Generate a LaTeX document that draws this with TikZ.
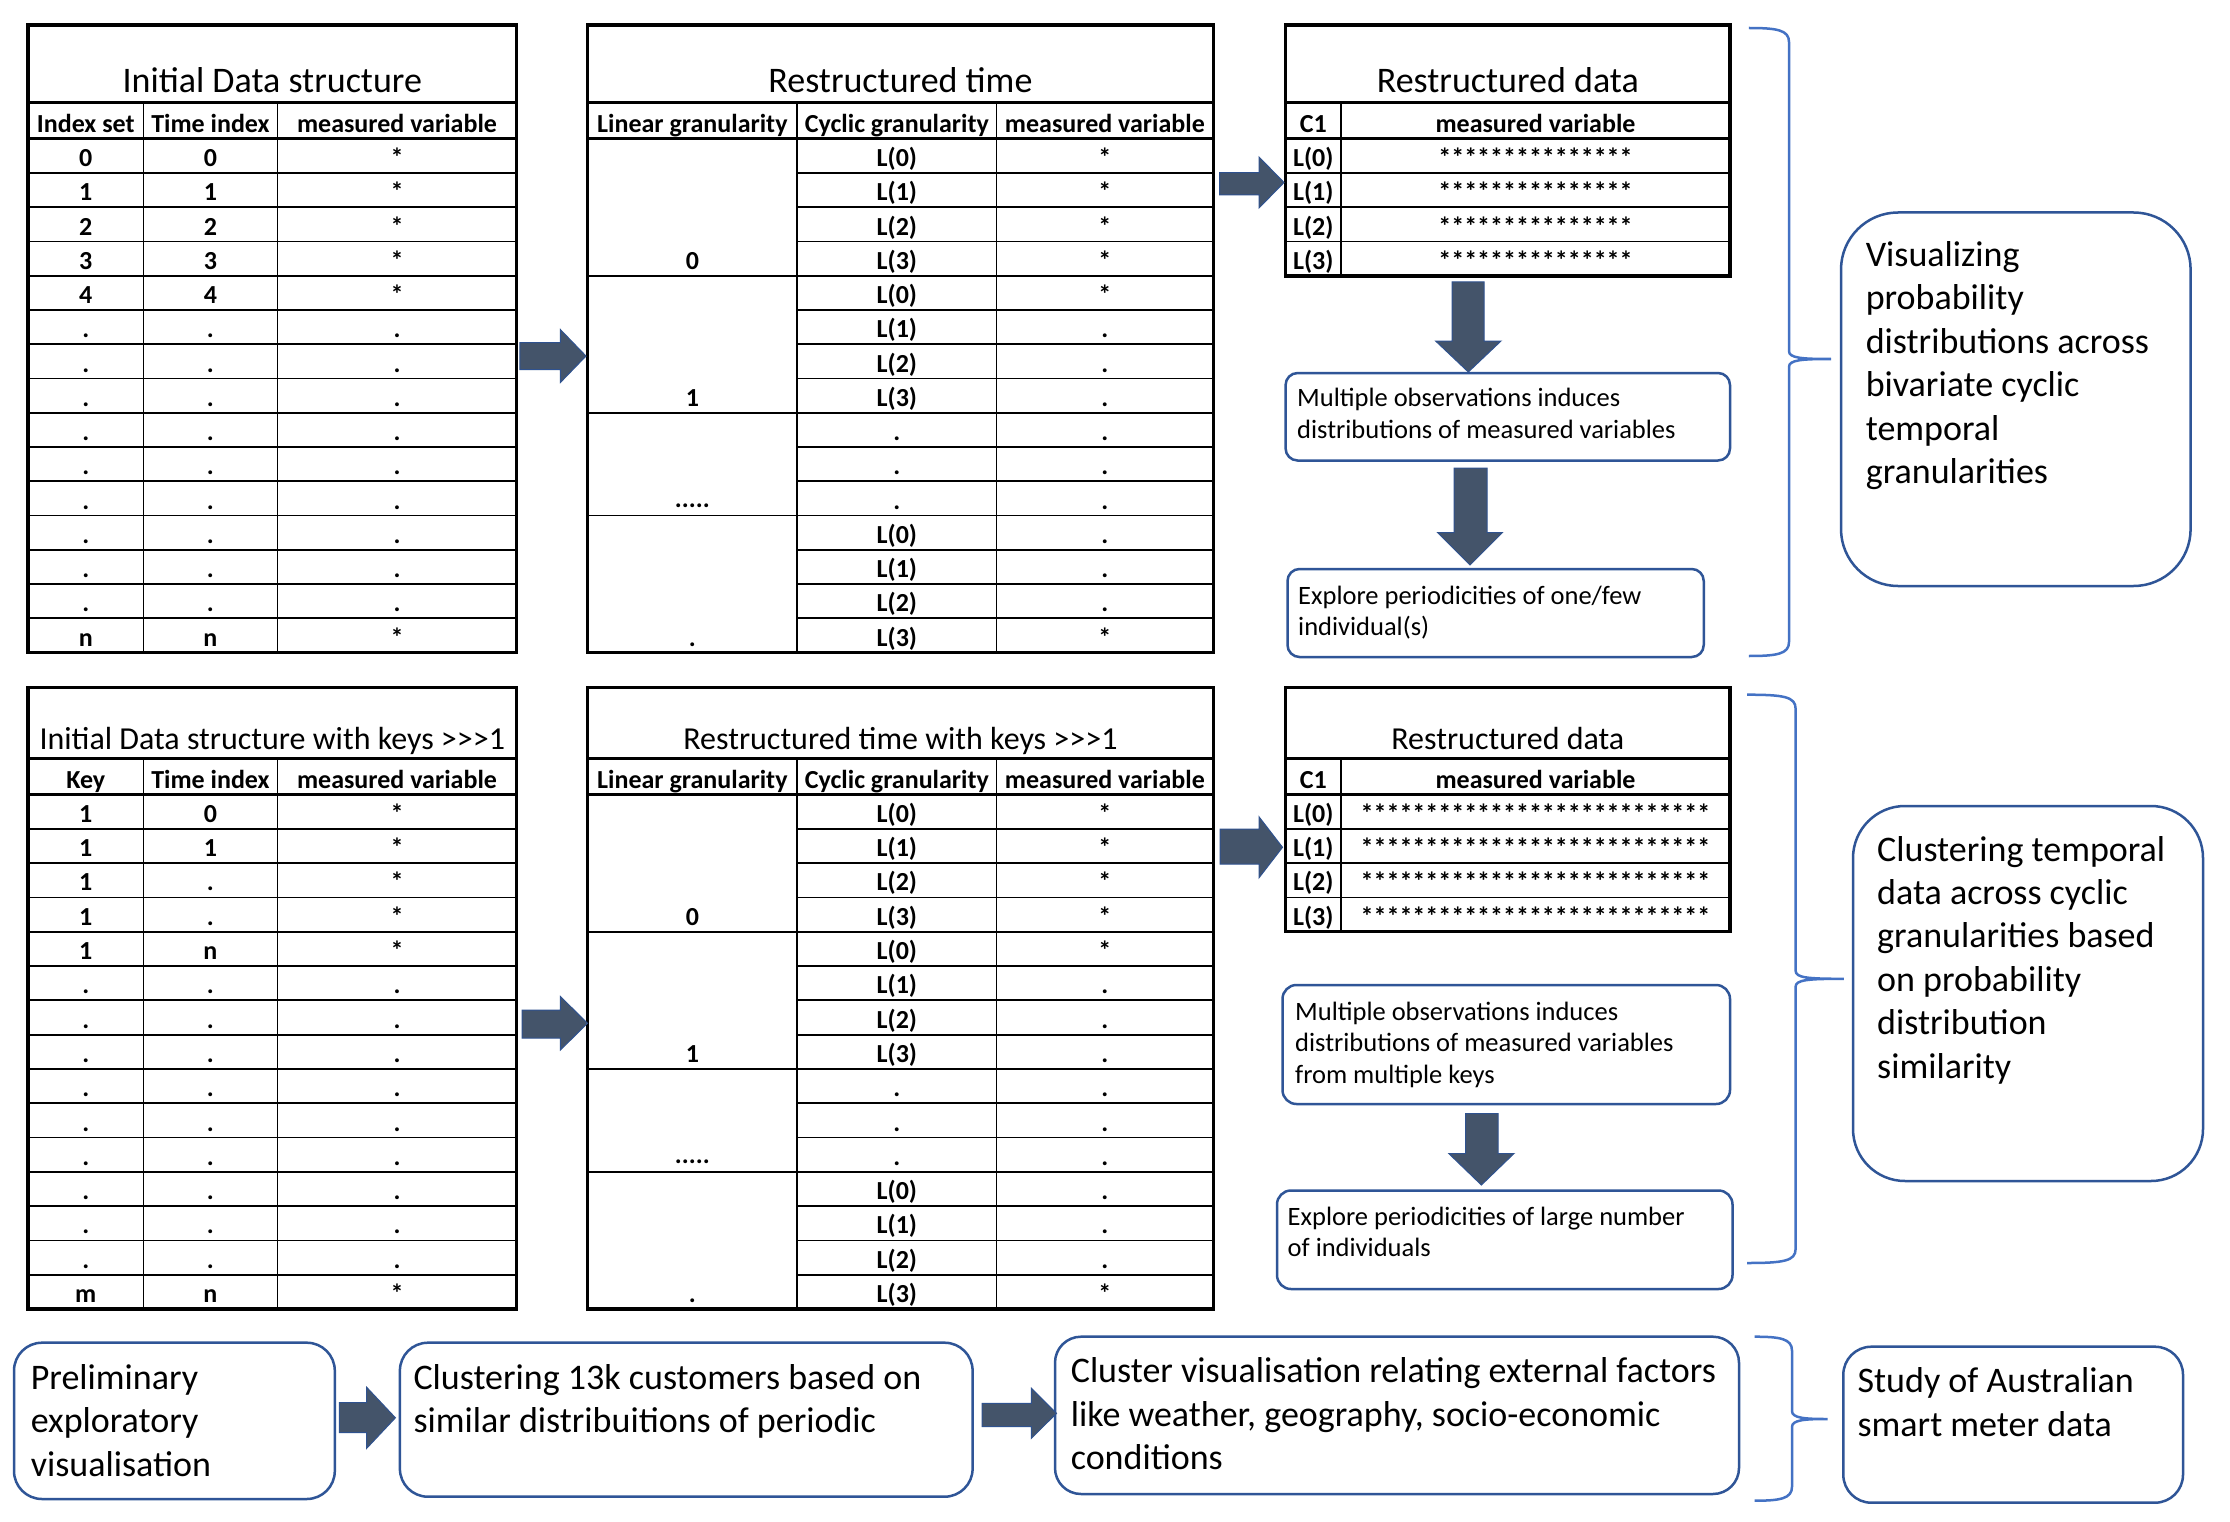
\documentclass[tikz,border=0pt]{standalone}
\usepackage{fontspec}
\setmainfont{Carlito}
\definecolor{arrowfill}{HTML}{44546A}
\definecolor{arrowline}{HTML}{2F528F}
\definecolor{boxline}{HTML}{2F5597}
\definecolor{braceline}{HTML}{4472C4}
\newcommand{\fivedots}{.....}
\newcommand{\gtgtgt}{>\kern0pt>\kern0pt>}
\tikzset{
 tbout/.style={line width=3.5pt},
 tbsep/.style={line width=3pt},
 tbin/.style={line width=1.8pt},
 ttl/.style={font=\fontsize{36}{43.4}\selectfont, anchor=base, inner sep=0pt},
 ttlsm/.style={font=\fontsize{32}{38.6}\selectfont, anchor=base, inner sep=0pt},
 hdr/.style={font=\bfseries\fontsize{26}{31}\selectfont, anchor=base, inner sep=0pt},
 cell/.style={hdr},
 bigtxt/.style={font=\fontsize{36}{43.4}\selectfont, anchor=base west, inner sep=0pt},
 smtxt/.style={font=\fontsize{26.5}{31.5}\selectfont, anchor=base west, inner sep=0pt},
 bluebox/.style={draw=boxline, line width=2.5pt, rounded corners=#1, rectangle, anchor=north west, inner sep=0pt, outer sep=0pt},
 blockarrow/.style={fill=arrowfill, draw=arrowline, line width=1pt},
 bracestyle/.style={draw=braceline, line width=2.5pt},
}
% right block arrow: x0, xhead, xtip, shaft top, shaft bottom, head top, head bottom
\newcommand{\rblock}[7]{\draw[blockarrow] (#1,#4) -- (#2,#4) -- (#2,#6) -- (#3,{(#6+#7)/2}) -- (#2,#7) -- (#2,#5) -- (#1,#5) -- cycle;}
% down block arrow: shaft left, shaft right, head left, head right, top, head start, tip
\newcommand{\dblock}[7]{\draw[blockarrow] (#1,#5) -- (#2,#5) -- (#2,#6) -- (#4,#6) -- ({(#3+#4)/2},#7) -- (#3,#6) -- (#1,#6) -- cycle;}
% brace: left x, vertical x, tip x, top y, tip y, bottom y
\newcommand{\mybrace}[6]{\draw[bracestyle] (#1,#4) .. controls (#2-12,#4) and (#2,#4+2) .. (#2,#4+14) -- (#2,#5-8) .. controls (#2,#5-1) and (#2+12,#5) .. (#3,#5) .. controls (#2+12,#5) and (#2,#5+1) .. (#2,#5+8) -- (#2,#6-14) .. controls (#2,#6-2) and (#2-12,#6) .. (#1,#6);}
\begin{document}
\begin{tikzpicture}[x=1pt,y=-1pt]
\useasboundingbox (0,0) rectangle (2230,1522);
\fill[white] (0,0) rectangle (2230,1522);

% ================= TOP ROW =================
\def\ya{25}\def\yb{103}\def\yc{138.8}\def\rh{34.25}\def\yd{652.6}
% ---- Table 1
\draw[tbin] foreach \k in {1,...,14} {(28,\yc+\k*\rh) -- (516.6,\yc+\k*\rh)};
\draw[tbin] (143.5,\yb) -- (143.5,\yd) (277.4,\yb) -- (277.4,\yd);
\draw[tbsep] (28,\yb) -- (516.6,\yb) (28,\yc) -- (516.6,\yc);
\draw[tbout] (28,\ya) rectangle (516.6,\yd);
\node[ttl] (t1t) at (272.3,93) {Initial Data structure};
\node[hdr] (t1h1) at (85.75,132.3) {Index set};
\node[hdr] (t1h2) at (210.45,132.3) {Time index};
\node[hdr] (t1h3) at (397,132.3) {measured variable};
\foreach \a/\b/\c [count=\i] in {0/0/*,1/1/*,2/2/*,3/3/*,4/4/*,./././,./././,./././,./././,./././,./././,./././,./././,./././,n/n/*}{
  \node[cell] (t1a\i) at (85.75,\yc+\i*\rh-6.5) {\a};
  \node[cell] (t1b\i) at (210.45,\yc+\i*\rh-6.5) {\b};
  \node[cell] (t1c\i) at (397,\yc+\i*\rh-6.5) {\c};
}
% ---- Table 2
\draw[tbin] foreach \k in {1,...,14} {(797.2,\yc+\k*\rh) -- (1213.3,\yc+\k*\rh)};
\draw[tbin] foreach \k in {4,8,11} {(587.5,\yc+\k*\rh) -- (797.2,\yc+\k*\rh)};
\draw[tbin] (797.2,\yb) -- (797.2,\yd) (996.5,\yb) -- (996.5,\yd);
\draw[tbsep] (587.5,\yb) -- (1213.3,\yb) (587.5,\yc) -- (1213.3,\yc);
\draw[tbout] (587.5,\ya) rectangle (1213.3,\yd);
\node[ttl] (t2t) at (900.4,93) {Restructured time};
\node[hdr] (t2h1) at (692.35,132.3) {Linear granularity};
\node[hdr] (t2h2) at (896.85,132.3) {Cyclic granularity};
\node[hdr] (t2h3) at (1104.9,132.3) {measured variable};
\foreach \b/\c [count=\i] in {L(0)/*,L(1)/*,L(2)/*,L(3)/*,L(0)/*,L(1)/.,L(2)/.,L(3)/.,./.,./.,./.,L(0)/.,L(1)/.,L(2)/.,L(3)/*}{
  \node[cell] (t2b\i) at (896.85,\yc+\i*\rh-6.5) {\b};
  \node[cell] (t2c\i) at (1104.9,\yc+\i*\rh-6.5) {\c};
}
\node[cell] (t2a4) at (692.35,\yc+4*\rh-6.5) {0};
\node[cell] (t2a8) at (692.35,\yc+8*\rh-6.5) {1};
\node[cell] (t2a11) at (692.35,\yc+11*\rh-8) {\fivedots};
\node[cell] (t2a15) at (692.35,\yc+15*\rh-6.5) {.};
% ---- Table 3
\draw[tbin] foreach \k in {1,2,3} {(1285.6,\yc+\k*\rh) -- (1730,\yc+\k*\rh)};
\draw[tbin] (1341,\yb) -- (1341,\yc+4*\rh);
\draw[tbsep] (1285.6,\yb) -- (1730,\yb) (1285.6,\yc) -- (1730,\yc);
\draw[tbout] (1285.6,\ya) rectangle (1730,\yc+4*\rh);
\node[ttl] (t3t) at (1507.8,93) {Restructured data};
\node[hdr] (t3h1) at (1313.3,132.3) {C1};
\node[hdr] (t3h2) at (1535.5,132.3) {measured variable};
\foreach \b [count=\i] in {L(0),L(1),L(2),L(3)}{
  \node[cell] (t3a\i) at (1313.3,\yc+\i*\rh-6.5) {\b};
  \node[cell] (t3b\i) at (1535.5,\yc+\i*\rh-6.5) {***************};
}

% ================= MIDDLE ROW =================
\def\ya{687.6}\def\yb{758}\def\yc{794.5}\def\rh{34.3}\def\yd{1309}
% ---- Table 4
\draw[tbin] foreach \k in {1,...,14} {(28,\yc+\k*\rh) -- (516.6,\yc+\k*\rh)};
\draw[tbin] (143.5,\yb) -- (143.5,\yd) (277.4,\yb) -- (277.4,\yd);
\draw[tbsep] (28,\yb) -- (516.6,\yb) (28,\yc) -- (516.6,\yc);
\draw[tbout] (28,\ya) rectangle (516.6,\yd);
\node[ttlsm] (t4t) at (272.3,749.5) {Initial Data structure with keys \gtgtgt1};
\node[hdr] (t4h1) at (85.75,788.5) {Key};
\node[hdr] (t4h2) at (210.45,788.5) {Time index};
\node[hdr] (t4h3) at (397,788.5) {measured variable};
\foreach \a/\b/\c [count=\i] in {1/0/*,1/1/*,1/./*,1/./*,1/n/*,./././,./././,./././,./././,./././,./././,./././,./././,./././,m/n/*}{
  \node[cell] (t4a\i) at (85.75,\yc+\i*\rh-6.5) {\a};
  \node[cell] (t4b\i) at (210.45,\yc+\i*\rh-6.5) {\b};
  \node[cell] (t4c\i) at (397,\yc+\i*\rh-6.5) {\c};
}
% ---- Table 5
\draw[tbin] foreach \k in {1,...,14} {(797.2,\yc+\k*\rh) -- (1213.3,\yc+\k*\rh)};
\draw[tbin] foreach \k in {4,8,11} {(587.5,\yc+\k*\rh) -- (797.2,\yc+\k*\rh)};
\draw[tbin] (797.2,\yb) -- (797.2,\yd) (996.5,\yb) -- (996.5,\yd);
\draw[tbsep] (587.5,\yb) -- (1213.3,\yb) (587.5,\yc) -- (1213.3,\yc);
\draw[tbout] (587.5,\ya) rectangle (1213.3,\yd);
\node[ttlsm] (t5t) at (900.4,749.5) {Restructured time with keys \gtgtgt1};
\node[hdr] (t5h1) at (692.35,788.5) {Linear granularity};
\node[hdr] (t5h2) at (896.85,788.5) {Cyclic granularity};
\node[hdr] (t5h3) at (1104.9,788.5) {measured variable};
\foreach \b/\c [count=\i] in {L(0)/*,L(1)/*,L(2)/*,L(3)/*,L(0)/*,L(1)/.,L(2)/.,L(3)/.,./.,./.,./.,L(0)/.,L(1)/.,L(2)/.,L(3)/*}{
  \node[cell] (t5b\i) at (896.85,\yc+\i*\rh-6.5) {\b};
  \node[cell] (t5c\i) at (1104.9,\yc+\i*\rh-6.5) {\c};
}
\node[cell] (t5a4) at (692.35,\yc+4*\rh-6.5) {0};
\node[cell] (t5a8) at (692.35,\yc+8*\rh-6.5) {1};
\node[cell] (t5a11) at (692.35,\yc+11*\rh-8) {\fivedots};
\node[cell] (t5a15) at (692.35,\yc+15*\rh-6.5) {.};
% ---- Table 6
\draw[tbin] foreach \k in {1,2,3} {(1285.6,\yc+\k*\rh) -- (1730,\yc+\k*\rh)};
\draw[tbin] (1341,\yb) -- (1341,\yc+4*\rh);
\draw[tbsep] (1285.6,\yb) -- (1730,\yb) (1285.6,\yc) -- (1730,\yc);
\draw[tbout] (1285.6,\ya) rectangle (1730,\yc+4*\rh);
\node[ttlsm] (t6t) at (1507.8,749.5) {Restructured data};
\node[hdr] (t6h1) at (1313.3,788.5) {C1};
\node[hdr] (t6h2) at (1535.5,788.5) {measured variable};
\foreach \b [count=\i] in {L(0),L(1),L(2),L(3)}{
  \node[cell] (t6a\i) at (1313.3,\yc+\i*\rh-6.5) {\b};
  \node[cell] (t6b\i) at (1535.5,\yc+\i*\rh-6.5) {***************************};
}

% ================= ROUNDED BOXES =================
\node[bluebox=12pt, minimum width=444.4pt, minimum height=87.5pt] (m1) at (1285.6,373) {};
\node[bluebox=12pt, minimum width=416.25pt, minimum height=88pt] (e1) at (1287.5,569) {};
\node[bluebox=57pt, minimum width=349.6pt, minimum height=373.5pt] (vbox) at (1841,212.5) {};
\node[bluebox=14pt, minimum width=447.5pt, minimum height=119pt] (m2) at (1282.5,985) {};
\node[bluebox=14pt, minimum width=455.5pt, minimum height=98.5pt] (e2) at (1277,1190.5) {};
\node[bluebox=52pt, minimum width=350pt, minimum height=375pt] (clbox) at (1853,806) {};
\node[bluebox=28pt, minimum width=320.8pt, minimum height=156.3pt] (abox) at (14,1342.7) {};
\node[bluebox=28pt, minimum width=572.7pt, minimum height=154pt] (bbox) at (399.9,1342.7) {};
\node[bluebox=26pt, minimum width=684pt, minimum height=157.3pt] (cbox) at (1055,1336.7) {};
\node[bluebox=28pt, minimum width=339.7pt, minimum height=156pt] (dbox) at (1843.3,1346.7) {};

\foreach \t [count=\i from 0] in {Multiple observations induces,distributions of measured variables}
  \node[smtxt] (m1l\i) at (1297,406.8+\i*31.3) {\t};
\foreach \t [count=\i from 0] in {Explore periodicities of one/few,individual(s)}
  \node[smtxt] (e1l\i) at (1298,604+\i*31.3) {\t};
\foreach \t [count=\i from 0] in {Multiple observations induces,distributions of measured variables,from multiple keys}
  \node[smtxt] (m2l\i) at (1295,1020+\i*31.8) {\t};
\foreach \t [count=\i from 0] in {Explore periodicities of large number,of individuals}
  \node[smtxt] (e2l\i) at (1287.5,1225+\i*31.6) {\t};
\foreach \t [count=\i from 0] in {Visualizing,probability,distributions across,bivariate cyclic,temporal,granularities}
  \node[bigtxt] (vl\i) at (1865.6,266.5+\i*43.4) {\t};
\foreach \t [count=\i from 0] in {Clustering temporal,data across cyclic,granularities based,on probability,distribution,similarity}
  \node[bigtxt] (cll\i) at (1877,861+\i*43.4) {\t};
\foreach \t [count=\i from 0] in {Preliminary,exploratory,visualisation}
  \node[bigtxt] (al\i) at (30.6,1389.5+\i*43.4) {\t};
\foreach \t [count=\i from 0] in {Clustering 13k customers based on,similar distribuitions of periodic}
  \node[bigtxt] (bl\i) at (413.3,1389.5+\i*43.4) {\t};
\foreach \t [count=\i from 0] in {Cluster visualisation relating external factors,{like weather, geography, socio-economic},conditions}
  \node[bigtxt] (cl\i) at (1070.6,1382.7+\i*43.4) {\t};
\foreach \t [count=\i from 0] in {Study of Australian,smart meter data}
  \node[bigtxt] (dl\i) at (1857.4,1392.7+\i*43.4) {\t};

% ================= BLOCK ARROWS =================
\rblock{519.8}{560.4}{586}{342.6}{369.5}{329.6}{382.5}
\rblock{1219.7}{1259}{1284}{172.6}{195}{157}{208}
\rblock{522}{560.4}{587.5}{1010}{1038}{996.5}{1050}
\rblock{1220}{1259}{1282.5}{829}{864}{816.8}{877.8}
\rblock{339.3}{366.7}{395.4}{1402.7}{1432.7}{1387.3}{1448.3}
\rblock{982}{1031.4}{1056.5}{1403.3}{1426.7}{1388.3}{1438.3}
\dblock{1452}{1484}{1435.6}{1501}{282}{341}{372}
\dblock{1454}{1487}{1437.5}{1502.5}{468}{532.5}{565}
\dblock{1465.6}{1498}{1448.75}{1514}{1113.5}{1153.5}{1185}

% ================= BRACES =================
\mybrace{1748.75}{1789}{1831}{28}{359}{656}
\mybrace{1747}{1795.6}{1843.75}{694.7}{978.8}{1263}
\mybrace{1754.6}{1792}{1827.6}{1336.7}{1419}{1500.7}
\end{tikzpicture}
\end{document}
